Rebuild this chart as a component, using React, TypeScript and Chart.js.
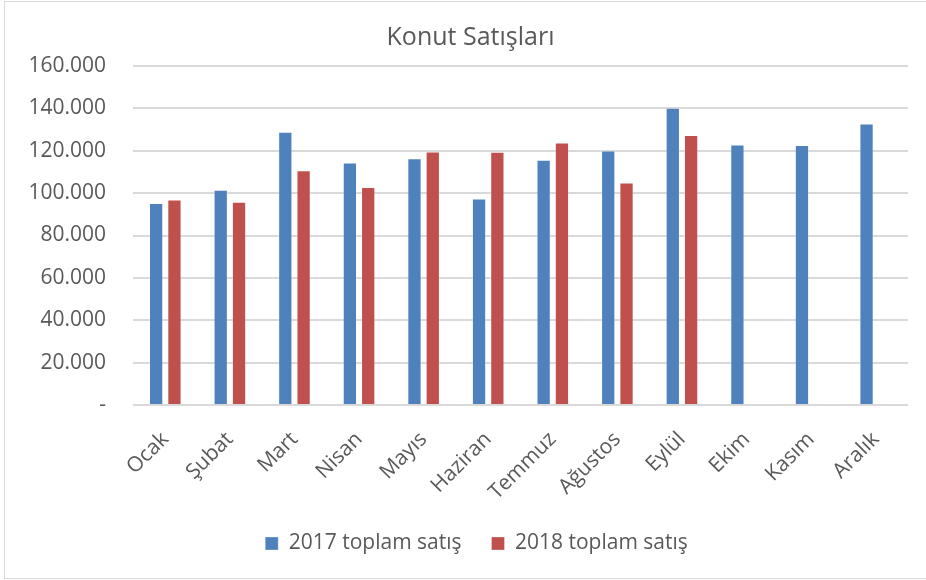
import React, { useEffect, useRef } from "react";
import { Chart, registerables } from "chart.js";

Chart.register(...registerables);

const months = ["Ocak", "Şubat", "Mart", "Nisan", "Mayıs", "Haziran", "Temmuz", "Ağustos", "Eylül", "Ekim", "Kasım", "Aralık"];
const sales2017 = [95300, 101600, 129000, 114500, 116500, 97500, 115700, 120100, 140300, 123000, 122700, 132900];
const sales2018: (number | null)[] = [97000, 95900, 110800, 102900, 119700, 119500, 123900, 105000, 127400, null, null, null];
const seriesNames = ["2017 toplam satış", "2018 toplam satış"];
const titleText = "Konut Satışları";

const FONT = "'Open Sans', sans-serif";
const TEXT = "#595959";

function fmt(v: number): string {
  if (v === 0) return "-";
  return String(Math.round(v)).replace(/\B(?=(\d{3})+(?!\d))/g, ".");
}

const shiftPlugin = {
  id: "shiftBlocks",
  afterLayout(chart: any) {
    const t = chart.titleBlock;
    if (t) {
      t.left += 14;
      t.right += 14;
    }
    const l = chart.legend;
    if (l) {
      l.left += 20;
      l.right += 20;
    }
  },
};

export default function App() {
  const ref = useRef<HTMLCanvasElement | null>(null);
  useEffect(() => {
    document.body.style.margin = "0";
    const chart = new Chart(ref.current as HTMLCanvasElement, {
      type: "bar",
      data: {
        labels: months,
        datasets: [
          {
            label: seriesNames[0],
            data: sales2017,
            backgroundColor: "#4F81BD",
            borderColor: "rgba(255,255,255,0.3)",
            borderWidth: 1,
            categoryPercentage: 0.567,
            barPercentage: 0.78,
          },
          {
            label: seriesNames[1],
            data: sales2018,
            backgroundColor: "#C0504D",
            borderColor: "rgba(255,255,255,0.3)",
            borderWidth: 1,
            categoryPercentage: 0.567,
            barPercentage: 0.78,
          },
        ],
      },
      options: {
        responsive: false,
        animation: false,
        devicePixelRatio: 1,
        layout: { padding: { left: 5, right: 18, top: 0, bottom: 16 } },
        plugins: {
          title: {
            display: true,
            text: titleText,
            color: TEXT,
            font: { family: FONT, size: 25, weight: "normal" },
            padding: { top: 23, bottom: 13 },
          },
          legend: {
            position: "bottom",
            labels: {
              color: TEXT,
              font: { family: FONT, size: 21 },
              boxWidth: 13,
              boxHeight: 13,
              padding: 30,
            },
          },
          tooltip: { enabled: false },
        },
        scales: {
          x: {
            grid: { display: false },
            border: { display: false },
            ticks: {
              color: TEXT,
              font: { family: FONT, size: 21 },
              minRotation: 45,
              maxRotation: 45,
              padding: 14,
              autoSkip: false,
            },
            afterFit: (s: any) => {
              s.height = 98;
            },
          },
          y: {
            min: 0,
            max: 160000,
            grid: { color: "#d9d9d9", lineWidth: 2, drawTicks: false },
            border: { display: false },
            ticks: {
              stepSize: 20000,
              color: TEXT,
              font: { family: FONT, size: 21 },
              padding: 27,
              callback: (v: any) => fmt(Number(v)),
            },
            afterFit: (s: any) => {
              s.width = 128;
            },
          },
        },
      },
      plugins: [shiftPlugin],
    });
    return () => chart.destroy();
  }, []);
  return (
    <div style={{ position: "fixed", left: 0, top: 0, width: 926, height: 580, overflow: "hidden", background: "#fff" }}>
      <canvas ref={ref} width={926} height={580} style={{ display: "block" }} />
      <div
        style={{
          position: "absolute",
          left: 4,
          top: 1,
          width: 940,
          height: 576,
          border: "1.5px solid #d9d9d9",
          pointerEvents: "none",
        }}
      />
    </div>
  );
}
